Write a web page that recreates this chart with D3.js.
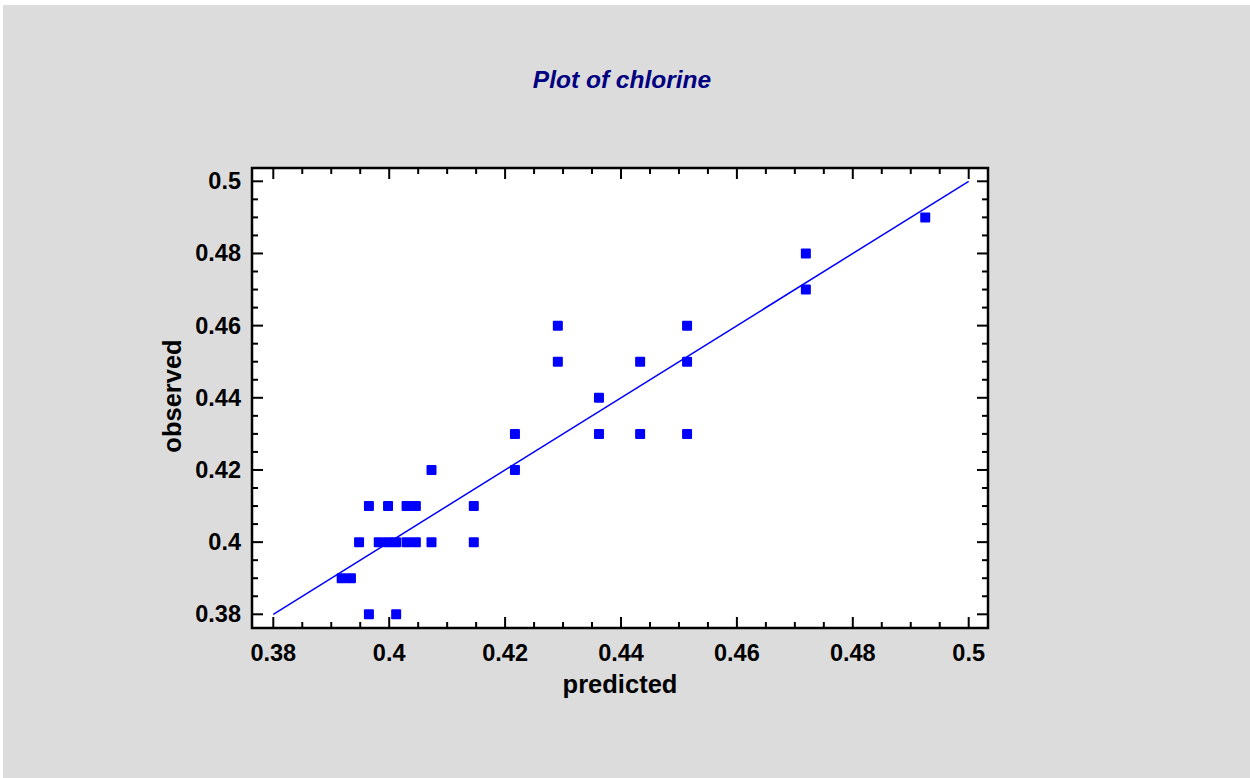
<!DOCTYPE html>
<html>
<head>
<meta charset="utf-8">
<script src="https://cdn.jsdelivr.net/npm/d3@7"></script>
<style>
  body { margin: 0; background: #fff; }
  svg { display: block; }
</style>
</head>
<body>
<svg width="1250" height="778"></svg>
<script>
// observed vs predicted values
const predicted = [
  0.3918, 0.3934, 0.3965, 0.4012,
  0.3948, 0.3965, 0.3982, 0.3998, 0.3998, 0.4012, 0.4030, 0.4030, 0.4046, 0.4046, 0.4073, 0.4073,
  0.4146, 0.4146, 0.4217, 0.4217, 0.4291, 0.4291, 0.4362, 0.4362,
  0.4433, 0.4433, 0.4514, 0.4514, 0.4514, 0.4719, 0.4719, 0.4925
];
const observed = [
  0.39, 0.39, 0.38, 0.38,
  0.40, 0.41, 0.40, 0.41, 0.40, 0.40, 0.40, 0.41, 0.41, 0.40, 0.40, 0.42,
  0.41, 0.40, 0.43, 0.42, 0.46, 0.45, 0.44, 0.43,
  0.45, 0.43, 0.46, 0.45, 0.43, 0.48, 0.47, 0.49
];
const xTicks = [0.38, 0.4, 0.42, 0.44, 0.46, 0.48, 0.5];
const yTicks = [0.38, 0.4, 0.42, 0.44, 0.46, 0.48, 0.5];
const fitLine = [0.38, 0.5];

const svg = d3.select("svg");
const font = "'Liberation Sans', Arial, sans-serif";

// gray panel
svg.append("rect")
   .attr("x", 3).attr("y", 5)
   .attr("width", 1247).attr("height", 773)
   .attr("fill", "#dcdcdc");

// plot frame
const fL = 252, fR = 988, fT = 168, fB = 628;
svg.append("rect")
   .attr("x", fL).attr("y", fT)
   .attr("width", fR - fL).attr("height", fB - fT)
   .attr("fill", "#fff");

const x = d3.scaleLinear().domain([0.38, 0.5]).range([273.3, 968.7]);
const y = d3.scaleLinear().domain([0.38, 0.5]).range([614.3, 181.3]);

// ticks pointing inward on all four sides
const minor = d3.range(0.38, 0.5001, 0.005);
const isMajor = v => Math.abs(Math.round(v / 0.02) * 0.02 - v) < 1e-6;
const tickG = svg.append("g").attr("stroke", "#000").attr("stroke-width", 2);
minor.forEach(v => {
  const len = isMajor(v) ? 11 : 6;
  tickG.append("line").attr("x1", x(v)).attr("x2", x(v)).attr("y1", fB).attr("y2", fB - len);
  tickG.append("line").attr("x1", x(v)).attr("x2", x(v)).attr("y1", fT).attr("y2", fT + len);
  tickG.append("line").attr("y1", y(v)).attr("y2", y(v)).attr("x1", fL).attr("x2", fL + len);
  tickG.append("line").attr("y1", y(v)).attr("y2", y(v)).attr("x1", fR).attr("x2", fR - len);
});

svg.append("rect")
   .attr("x", fL).attr("y", fT)
   .attr("width", fR - fL).attr("height", fB - fT)
   .attr("fill", "none")
   .attr("stroke", "#000")
   .attr("stroke-width", 2.5);

// tick labels
const fmt = d => String(+d.toFixed(2));
svg.selectAll(".xl").data(xTicks).enter().append("text")
   .attr("x", d => x(d)).attr("y", 661)
   .attr("text-anchor", "middle")
   .attr("font-family", font).attr("font-weight", "bold").attr("font-size", "23.5px")
   .text(fmt);
svg.selectAll(".yl").data(yTicks).enter().append("text")
   .attr("x", 241).attr("y", d => y(d) + 8)
   .attr("text-anchor", "end")
   .attr("font-family", font).attr("font-weight", "bold").attr("font-size", "23.5px")
   .text(fmt);

// axis titles
svg.append("text")
   .attr("x", 620).attr("y", 693)
   .attr("text-anchor", "middle")
   .attr("font-family", font).attr("font-weight", "bold").attr("font-size", "25.5px")
   .text("predicted");
svg.append("text")
   .attr("transform", "translate(181,396) rotate(-90)")
   .attr("text-anchor", "middle")
   .attr("font-family", font).attr("font-weight", "bold").attr("font-size", "25.5px")
   .text("observed");

// chart title
svg.append("text")
   .attr("x", 622).attr("y", 88)
   .attr("text-anchor", "middle")
   .attr("font-family", font).attr("font-weight", "bold").attr("font-style", "italic")
   .attr("font-size", "24.5px")
   .attr("fill", "#000080")
   .text("Plot of chlorine");

// fitted line
svg.append("line")
   .attr("x1", x(fitLine[0])).attr("y1", y(fitLine[0]))
   .attr("x2", x(fitLine[1])).attr("y2", y(fitLine[1]))
   .attr("stroke", "#0000ff").attr("stroke-width", 1.5);

// points
svg.selectAll(".pt").data(predicted).enter().append("rect")
   .attr("x", (d, i) => x(d) - 5)
   .attr("y", (d, i) => y(observed[i]) - 5)
   .attr("width", 10).attr("height", 10)
   .attr("rx", 1)
   .attr("fill", "#0000ff");
</script>
</body>
</html>
